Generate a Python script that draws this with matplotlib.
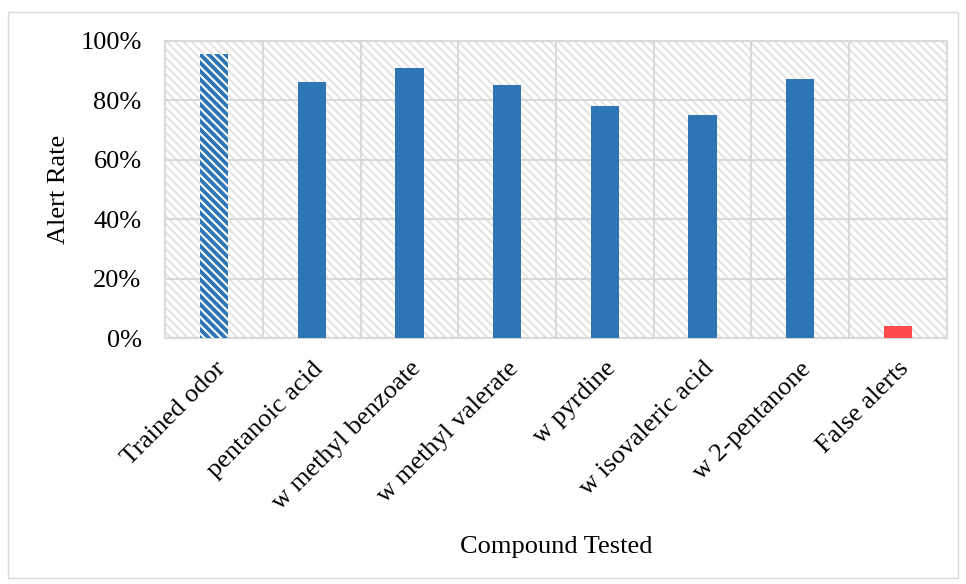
import numpy as np
import matplotlib.pyplot as plt
from matplotlib.patches import Rectangle

compounds = ["Trained odor", "pentanoic acid", "w methyl benzoate", "w methyl valerate",
             "w pyrdine", "w isovaleric acid", "w 2-pentanone", "False alerts"]
alert_rate = [95.5, 86.3, 90.8, 85.0, 78.2, 75.0, 87.3, 4.2]

plt.rcParams['font.family'] = ['Liberation Serif', 'DejaVu Serif']
plt.rcParams['hatch.linewidth'] = 1.5

blue = "#2E75B6"
grid_c = "#D9D9D9"
fs = 19

fig = plt.figure(figsize=(9.66, 5.84), dpi=100)
ax = fig.add_axes([0.171, 0.421, 0.809, 0.509])

# hatched plot area
ax.add_patch(Rectangle((0, 0), 1, 1, transform=ax.transAxes, facecolor="white",
                       edgecolor="#E4E4E4", hatch="\\\\\\\\", linewidth=0, zorder=0))

x = np.arange(len(compounds))
colors = [blue] * (len(compounds) - 1) + ["#FF4B4B"]
bars = ax.bar(x, alert_rate, width=0.29, color=colors, zorder=3)
bars[0].set_hatch("\\\\\\\\")
bars[0].set_edgecolor("white")
bars[0].set_linewidth(0)

ax.set_xlim(-0.5, len(compounds) - 0.5)
ax.set_ylim(0, 100)
ax.set_yticks(np.arange(0, 101, 20))
ax.set_yticklabels([f"{v}%" for v in range(0, 101, 20)], fontsize=fs)
ax.set_xticks(x)
ax.set_xticklabels(compounds, rotation=45, ha="right", rotation_mode="anchor", fontsize=fs)
ax.tick_params(axis="x", length=0, pad=14)
ax.tick_params(axis="y", length=0, pad=17)

for v in range(20, 101, 20):
    ax.axhline(v, color=grid_c, linewidth=1.5, zorder=1)
for b in np.arange(0.5, len(compounds) - 1, 1):
    ax.axvline(b, color=grid_c, linewidth=1.5, zorder=1)
for s in ax.spines.values():
    s.set_color(grid_c)
    s.set_linewidth(1.5)

ax.set_ylabel("Alert Rate", fontsize=fs)
ax.yaxis.set_label_coords(-0.122, 0.5)
ax.set_xlabel("Compound Tested", fontsize=fs)
ax.xaxis.set_label_coords(0.5, -0.665)

# outer frame
fig.patches.append(Rectangle((8 / 966, 6 / 584), 950 / 966, 566 / 584, transform=fig.transFigure,
                             fill=False, edgecolor="#D9D9D9", linewidth=1))

fig.savefig("out.png", dpi=100)
